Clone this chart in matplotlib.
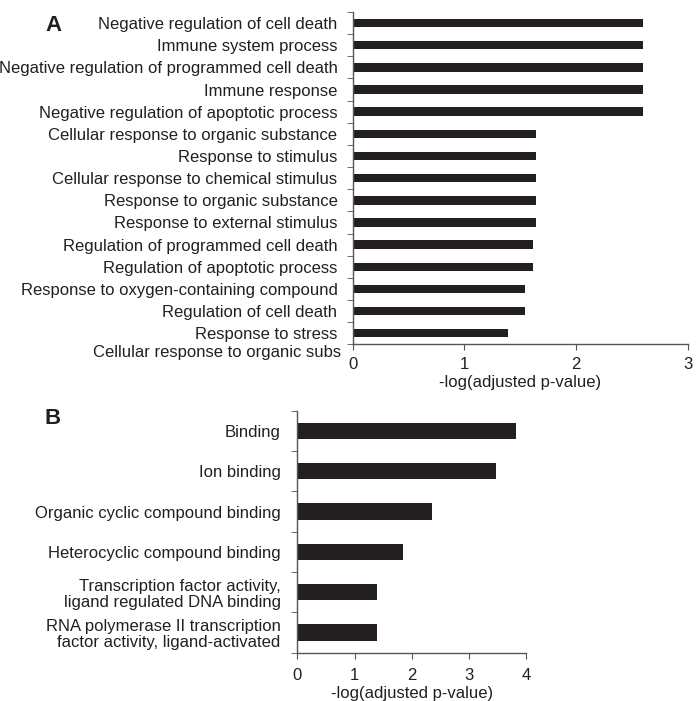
import matplotlib.pyplot as plt
import numpy as np

plt.rcParams['font.family'] = ['Liberation Sans', 'DejaVu Sans']

# panel A: biological process terms
termsA = ['Negative regulation of cell death', 'Immune system process',
          'Negative regulation of programmed cell death', 'Immune response',
          'Negative regulation of apoptotic process',
          'Cellular response to organic substance', 'Response to stimulus',
          'Cellular response to chemical stimulus',
          'Response to organic substance', 'Response to external stimulus',
          'Regulation of programmed cell death', 'Regulation of apoptotic process',
          'Response to oxygen-containing compound', 'Regulation of cell death',
          'Response to stress', 'Cellular response to organic subs']
valuesA = [2.60, 2.60, 2.60, 2.60, 2.60, 1.645, 1.645, 1.645, 1.645, 1.645,
           1.61, 1.61, 1.545, 1.545, 1.395]

# panel B: molecular function terms
termsB = ['Binding', 'Ion binding', 'Organic cyclic compound binding',
          'Heterocyclic compound binding',
          'Transcription factor activity,\nligand regulated DNA binding',
          'RNA polymerase II transcription\nfactor activity, ligand-activated']
valuesB = [3.82, 3.47, 2.35, 1.84, 1.39, 1.39]

ink = '#231f20'
fs = 12

fig = plt.figure(figsize=(6.98, 7.01), dpi=100)
axA = fig.add_axes([0.5053, 0.5088, 0.48, 0.4741])
axB = fig.add_axes([0.426, 0.0689, 0.3276, 0.3452])


def style(ax):
    for s in ['top', 'right']:
        ax.spines[s].set_visible(False)
    for s in ['left', 'bottom']:
        ax.spines[s].set_color('#555555')
        ax.spines[s].set_linewidth(1.0)
    ax.tick_params(axis='x', direction='out', length=4, color='#555555',
                   labelsize=fs, labelcolor=ink, pad=5)
    ax.tick_params(axis='y', which='minor', direction='out', length=4,
                   color='#555555')
    ax.tick_params(axis='y', which='major', length=0, labelsize=fs,
                   labelcolor=ink, pad=11)


# panel A
nA = len(valuesA)
yA = np.arange(nA)
axA.barh(yA, valuesA, height=0.38, color=ink)
axA.set_yticks(yA)
axA.set_yticklabels(termsA[:nA])
axA.set_yticks(np.arange(nA + 1) - 0.5, minor=True)
axA.set_ylim(nA - 0.5, -0.5)
axA.set_xlim(0, 3)
axA.set_xticks([0, 1, 2, 3])
axA.set_xlabel('-log(adjusted p-value)', fontsize=fs, color=ink, labelpad=2)
style(axA)
axA.text(-0.0336, nA - 0.12, termsA[-1], transform=axA.get_yaxis_transform(),
         ha='right', va='center', fontsize=fs, color=ink, clip_on=False)

# panel B
nB = len(valuesB)
yB = np.arange(nB)
axB.barh(yB, valuesB, height=0.4, color=ink)
axB.set_yticks(yB)
axB.set_yticklabels(termsB, linespacing=1.1)
axB.set_yticks(np.arange(nB + 1) - 0.5, minor=True)
axB.set_ylim(nB - 0.5, -0.5)
axB.set_xlim(0, 4)
axB.set_xticks([0, 1, 2, 3, 4])
axB.set_xlabel('-log(adjusted p-value)', fontsize=fs, color=ink, labelpad=2)
style(axB)
axB.tick_params(axis='y', which='major', pad=12)
axB.tick_params(axis='x', pad=7)

fig.text(0.076, 0.979, 'A', fontsize=16, fontweight='bold', color=ink,
         ha='center', va='top')
fig.text(0.076, 0.418, 'B', fontsize=16, fontweight='bold', color=ink,
         ha='center', va='top')

fig.savefig('out.png', dpi=100)
